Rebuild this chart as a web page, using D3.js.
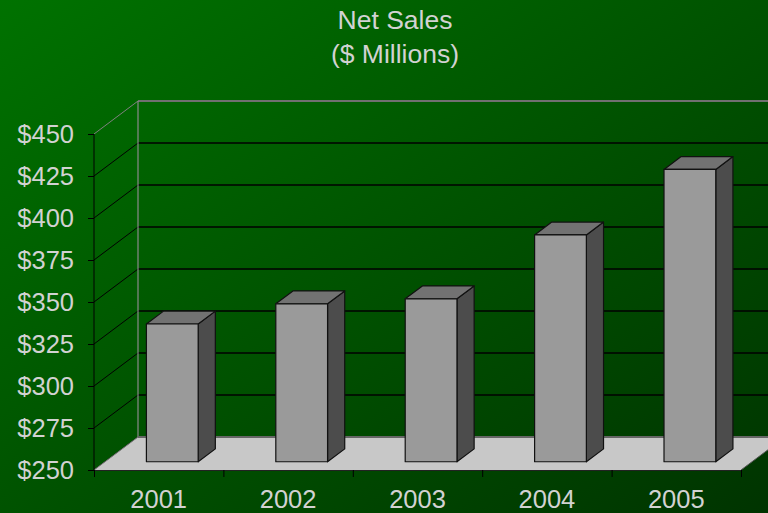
<!DOCTYPE html>
<html><head><meta charset="utf-8">
<script src="https://cdn.jsdelivr.net/npm/d3@7"></script>
<style>html,body{margin:0;padding:0;overflow:hidden;background:#005000}</style>
</head><body>
<svg id="c" width="768" height="513"></svg>
<script>
const years = ["2001","2002","2003","2004","2005"];
const netSales = [332, 344, 347, 385, 424];
const yTicks = [250,275,300,325,350,375,400,425,450];
const titleLines = ["Net Sales","($ Millions)"];

const W=768,H=513;
const svg=d3.select("#c");
const defs=svg.append("defs");
const g=defs.append("linearGradient").attr("id","bg").attr("x1","0").attr("y1","0").attr("x2","1").attr("y2","1");
g.append("stop").attr("offset","0").attr("stop-color","#007200");
g.append("stop").attr("offset","1").attr("stop-color","#003400");
svg.append("rect").attr("width",W).attr("height",H).attr("fill","url(#bg)");

const x0=94,x1=741,yB=470,yT=134;
const DX=44,DY=-33; // depth offset
const x=d3.scaleBand().domain(years).range([x0,x1]);
const y=d3.scaleLinear().domain([250,450]).range([yB,yT]);
const P=(px,py,d)=>[px+DX*d,py+DY*d];
const font="'Liberation Sans', Arial, sans-serif";
const txt="#d2d2d2";

// back wall gridlines
const gridG=svg.append("g");
yTicks.forEach(t=>{
  const a=P(x0,y(t),0), b=P(x0,y(t),1);
  const top=t===450;
  gridG.append("line").attr("x1",a[0]).attr("y1",a[1]).attr("x2",b[0]).attr("y2",b[1])
    .attr("stroke",top?"#808080":"#000").attr("stroke-width",1);
  gridG.append("line").attr("x1",b[0]).attr("y1",b[1]).attr("x2",W+10).attr("y2",b[1])
    .attr("stroke",top?"#707070":"#000").attr("stroke-width",top?2:1.3);
});
// back wall left edge
{
  const a=P(x0,y(250),1), b=P(x0,y(450),1);
  svg.append("line").attr("x1",a[0]).attr("y1",a[1]).attr("x2",b[0]).attr("y2",b[1]).attr("stroke","#8a8a8a").attr("stroke-width",1.2);
}
// floor
{
  const fl=[P(x0,yB,0),P(x1,yB,0),P(x1,yB,1),P(x0,yB,1)];
  svg.append("path").attr("d",d3.line()(fl)+"Z").attr("fill","#c8c8c8").attr("stroke","none");
  svg.append("line").attr("x1",P(x0,yB,1)[0]).attr("y1",P(x0,yB,1)[1]).attr("x2",W+10).attr("y2",P(x0,yB,1)[1]).attr("stroke","#666").attr("stroke-width",2);
  svg.append("line").attr("x1",x0).attr("y1",yB).attr("x2",P(x0,yB,1)[0]).attr("y2",P(x0,yB,1)[1]).attr("stroke","#777").attr("stroke-width",1);
  svg.append("line").attr("x1",x0).attr("y1",yB+0.5).attr("x2",x1).attr("y2",yB+0.5).attr("stroke","#222").attr("stroke-width",1);
  svg.append("line").attr("x1",x1).attr("y1",yB).attr("x2",x1+DX).attr("y2",yB+DY).attr("stroke","#555").attr("stroke-width",1);
}

// bars
const d0=0.25,d1=0.64;
const bw=x.bandwidth();
const bl=0.32*bw, br=0.72*bw;
const barsG=svg.append("g").attr("stroke","#111").attr("stroke-width",1.2).attr("stroke-linejoin","round");
years.forEach((yr,i)=>{
  const v=netSales[i];
  const L=x(yr)+bl, R=x(yr)+br, T=y(v), B=y(250);
  const f=[P(L,T,d0),P(R,T,d0),P(R,B,d0),P(L,B,d0)];
  const side=[P(R,T,d0),P(R,T,d1),P(R,B,d1),P(R,B,d0)];
  const top=[P(L,T,d0),P(L,T,d1),P(R,T,d1),P(R,T,d0)];
  barsG.append("path").attr("d",d3.line()(side)+"Z").attr("fill","#4c4c4c");
  barsG.append("path").attr("d",d3.line()(top)+"Z").attr("fill","#727272");
  barsG.append("path").attr("d",d3.line()(f)+"Z").attr("fill","#9a9a9a");
});

// y axis
const yAx=svg.append("g").attr("transform",`translate(${x0},0)`)
  .call(d3.axisLeft(y).tickValues(yTicks).tickSize(6).tickPadding(14).tickFormat(d=>"$"+d));
yAx.select(".domain").attr("stroke","#000").attr("d",`M0,${yT}V${yB}`);
yAx.selectAll(".tick line").attr("stroke","#000");
yAx.selectAll("text").attr("fill",txt).attr("font-family",font).attr("font-size","25.5px").attr("dy","0.35em");

// x axis: boundary ticks + labels at band centers
const xb=d3.scaleLinear().domain([0,5]).range([x0,x1]);
const xAx=svg.append("g").attr("transform",`translate(0,${yB})`)
  .call(d3.axisBottom(xb).ticks(5).tickSize(7).tickFormat(""));
xAx.select(".domain").remove();
xAx.selectAll(".tick line").attr("stroke","#000");
svg.append("g").selectAll("text").data(years).join("text")
  .attr("x",d=>x(d)+bw/2).attr("y",508).attr("text-anchor","middle")
  .attr("fill",txt).attr("font-family",font).attr("font-size","25.5px").text(d=>d);

// title
svg.append("g").selectAll("text").data(titleLines).join("text")
  .attr("x",395).attr("y",(d,i)=>29+i*34).attr("text-anchor","middle")
  .attr("fill",txt).attr("font-family",font).attr("font-size","26.5px").text(d=>d);
</script>
</body></html>
